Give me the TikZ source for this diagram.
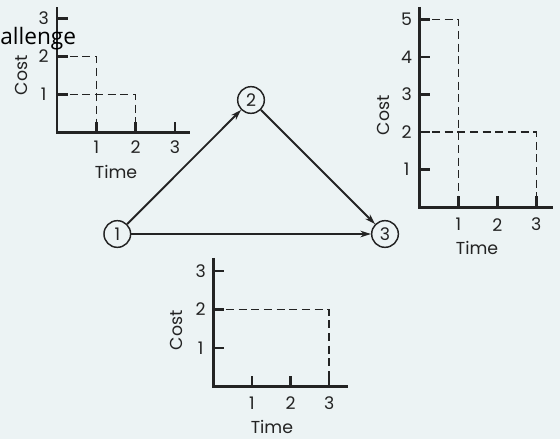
\documentclass[tikz,border=0pt]{standalone}
\usepackage{fontspec}
\setmainfont{Poppins}
\newfontfamily\notefont{Open Sans}
\usetikzlibrary{positioning,arrows.meta}
\definecolor{inkgray}{RGB}{35,35,35}
\definecolor{paperblue}{RGB}{236,243,244}

\begin{document}
\begin{tikzpicture}[
    x=0.75pt, y=-0.75pt,
    event/.style={
        draw=inkgray,
        circle,
        line width=1.1pt,
        minimum size=20pt,
        inner sep=0pt,
        text=inkgray,
        font=\fontsize{13}{15}\selectfont
    },
    arr/.style={
        -{Stealth[length=8pt,width=5pt]},
        line width=1.4pt,
        inkgray
    },
    axis/.style={
        line width=2pt,
        inkgray
    },
    profile/.style={
        line width=1.2pt,
        inkgray,
        dash pattern=on 6pt off 3.5pt
    },
    lbl/.style={
        inner sep=0pt,
        text=inkgray,
        font=\fontsize{13}{15}\selectfont
    },
    cost/.style={
        lbl,
        rotate=90
    }
]

\useasboundingbox (0,0) rectangle (560,439);
\fill[paperblue] (0,0) rectangle (560,439);

% ---------------- Cost curve of activity 1-2 ----------------
\begin{scope}[shift={(57,132.5)}, x=29.5pt, y=28.5pt]
\draw[axis] (0,3.3) -- (0,0) -- (3.38,0);
\foreach \k in {1,2,3} {
    \draw[axis] (0,\k) -- ++(8pt,0);
    \draw[axis] (\k,0) -- ++(0,8.25pt);
    \node[lbl, xshift=-10pt] (a-y\k) at (0,\k) {\k};
    \node[lbl, yshift=-11pt] (a-x\k) at (\k,0) {\k};
}
\draw[profile] (0,2) -| (1,0);
\draw[profile] (0,1) -| (2,0);
\node[xshift=-27pt, cost] (a-cost) at (0,1.51) {Cost};
\node[lbl, yshift=-29.6pt] (a-time) at (1.5,0) {Time};
\end{scope}

% ---------------- Cost curve of activity 2-3 ----------------
\begin{scope}[shift={(419.3,207.3)}, x=29.25pt, y=28.2pt]
\draw[axis] (0,5.33) -- (0,0) -- (3.43,0);
\foreach \k in {1,...,5} {
    \draw[axis] (0,\k) -- ++(8pt,0);
    \node[lbl, xshift=-9.5pt] (b-y\k) at (0,\k) {\k};
}
\foreach \k in {1,2,3} {
    \draw[axis] (\k,0) -- ++(0,8.25pt);
    \node[lbl, yshift=-13pt] (b-x\k) at (\k,0) {\k};
}
\draw[profile] (0,5) -| (1,0);
\draw[profile] (0,2) -| (3,0);
\node[xshift=-27pt, cost] (b-cost) at (0,2.45) {Cost};
\node[lbl, yshift=-30.5pt] (b-time) at (1.48,0) {Time};
\end{scope}

% ---------------- Cost curve of activity 1-3 ----------------
\begin{scope}[shift={(213.3,386.7)}, x=28.95pt, y=28.95pt]
\draw[axis] (0,3.34) -- (0,0) -- (3.49,0);
\foreach \k in {1,2,3} {
    \draw[axis] (0,\k) -- ++(8pt,0);
    \draw[axis] (\k,0) -- ++(0,8.25pt);
    \node[lbl, xshift=-9.5pt] (c-y\k) at (0,\k) {\k};
    \node[lbl, yshift=-12.5pt] (c-x\k) at (\k,0) {\k};
}
\draw[profile] (0,2) -| (3,0);
\node[xshift=-27.5pt, cost] (c-cost) at (0,1.46) {Cost};
\node[lbl, yshift=-30.2pt] (c-time) at (1.52,0) {Time};
\end{scope}

% ---------------- Network ----------------
\node[event] (n1) at (117.3,234) {1};
\node[event] (n2) at (251,100) {2};
\node[event] (n3) at (385,234) {3};

\draw[arr] (n1) -- (n2);
\draw[arr] (n2) -- (n3);
\draw[arr] (n1) -- (n3);

\node[font=\notefont\fontsize{17}{20}\selectfont, anchor=base west, inner sep=0pt] (cut-title) at (0,44) {allenge};

\end{tikzpicture}
\end{document}
